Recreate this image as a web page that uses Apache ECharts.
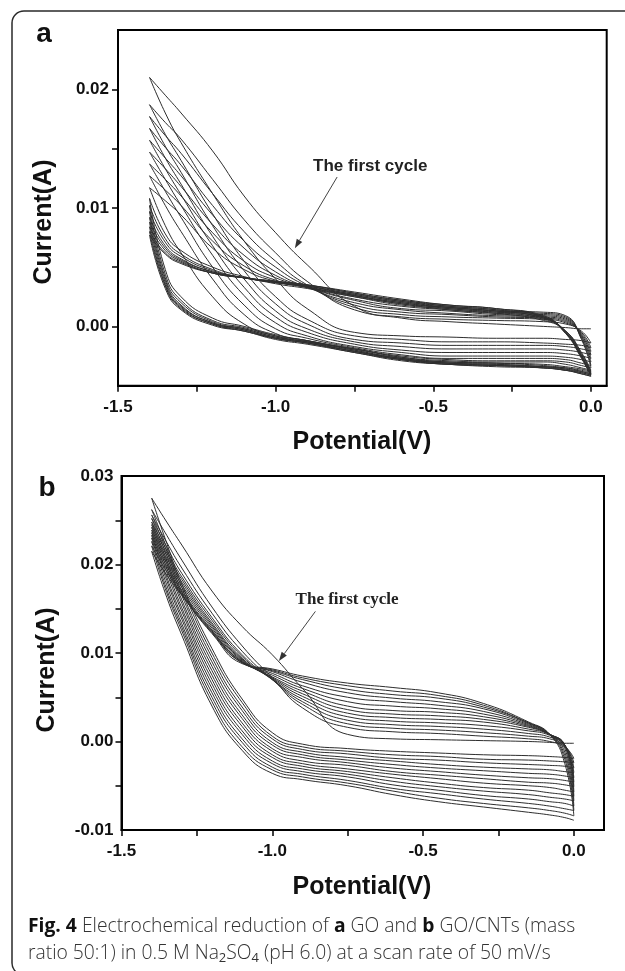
<!DOCTYPE html>
<html><head><meta charset="utf-8">
<script src="https://cdn.jsdelivr.net/npm/echarts@6/dist/echarts.min.js"></script>
<style>html,body{margin:0;padding:0;background:#fff;}#c{width:625px;height:971px;}</style>
</head><body><div id="c"></div>
<script>
// Shared potential grid (V), scan from 0 V to -1.4 V
const potential = [0, -0.03, -0.08, -0.15, -0.3, -0.45, -0.6, -0.75, -0.9, -1.0, -1.1, -1.2, -1.3, -1.35, -1.4];

// Axis ticks
const xLabelValues = [-1.5, -1.0, -0.5, 0.0];
const xTickValues = [-1.5, -1.25, -1.0, -0.75, -0.5, -0.25, 0.0];
const yLabelValuesA = [0.00, 0.01, 0.02];
const yTickValuesA = [0.0, 0.005, 0.01, 0.015, 0.02];
const yLabelValuesB = [-0.01, 0.00, 0.01, 0.02, 0.03];
const yTickValuesB = [-0.005, 0.0, 0.005, 0.01, 0.015, 0.02, 0.025];

// Panel a (GO): current (A) on forward (0 -> -1.4 V) and reverse (-1.4 -> 0 V) scans, on the potential grid
const goForward = [
  [-0.0002, -0.0002, -0.0001, 0.0000, 0.0002, 0.0004, 0.0007, 0.0017, 0.0052, 0.0079, 0.0110, 0.0148, 0.0180, 0.0195, 0.0210],
  [-0.0014, -0.0004, 0.0002, 0.0004, 0.0005, 0.0006, 0.0008, 0.0014, 0.0038, 0.0062, 0.0090, 0.0124, 0.0158, 0.0172, 0.0187],
  [-0.0018, -0.0005, 0.0003, 0.0006, 0.0007, 0.0008, 0.0010, 0.0016, 0.0035, 0.0055, 0.0080, 0.0112, 0.0146, 0.0161, 0.0177],
  [-0.0021, -0.0006, 0.0004, 0.0007, 0.0008, 0.0010, 0.0012, 0.0018, 0.0034, 0.0050, 0.0072, 0.0102, 0.0136, 0.0151, 0.0167],
  [-0.0024, -0.0007, 0.0005, 0.0008, 0.0009, 0.0011, 0.0014, 0.0020, 0.0033, 0.0046, 0.0066, 0.0094, 0.0127, 0.0142, 0.0157],
  [-0.0027, -0.0008, 0.0006, 0.0009, 0.0010, 0.0013, 0.0015, 0.0022, 0.0033, 0.0043, 0.0060, 0.0086, 0.0118, 0.0133, 0.0147],
  [-0.0030, -0.0009, 0.0007, 0.0010, 0.0011, 0.0014, 0.0017, 0.0023, 0.0033, 0.0041, 0.0055, 0.0079, 0.0110, 0.0124, 0.0137],
  [-0.0033, -0.0010, 0.0008, 0.0011, 0.0012, 0.0015, 0.0018, 0.0025, 0.0033, 0.0039, 0.0051, 0.0072, 0.0102, 0.0115, 0.0127],
  [-0.0035, -0.0011, 0.0009, 0.0012, 0.0013, 0.0016, 0.0019, 0.0026, 0.0033, 0.0038, 0.0048, 0.0066, 0.0094, 0.0106, 0.0117],
  [-0.0037, -0.0022, -0.0004, 0.0005, 0.0011, 0.0014, 0.0019, 0.0025, 0.0032, 0.0036, 0.0042, 0.0050, 0.0064, 0.0078, 0.0108],
  [-0.0038, -0.0023, -0.0004, 0.0006, 0.0012, 0.0015, 0.0020, 0.0026, 0.0033, 0.0037, 0.0041, 0.0048, 0.0061, 0.0074, 0.0102],
  [-0.0039, -0.0024, -0.0004, 0.0007, 0.0013, 0.0016, 0.0020, 0.0026, 0.0034, 0.0037, 0.0041, 0.0047, 0.0059, 0.0071, 0.0097],
  [-0.0040, -0.0025, -0.0005, 0.0007, 0.0013, 0.0016, 0.0021, 0.0027, 0.0034, 0.0037, 0.0041, 0.0046, 0.0057, 0.0068, 0.0092],
  [-0.0040, -0.0025, -0.0005, 0.0008, 0.0014, 0.0017, 0.0021, 0.0027, 0.0034, 0.0037, 0.0041, 0.0046, 0.0056, 0.0066, 0.0088],
  [-0.0041, -0.0026, -0.0005, 0.0008, 0.0014, 0.0017, 0.0022, 0.0028, 0.0035, 0.0038, 0.0041, 0.0045, 0.0055, 0.0064, 0.0084],
  [-0.0041, -0.0026, -0.0006, 0.0008, 0.0015, 0.0018, 0.0022, 0.0028, 0.0035, 0.0038, 0.0041, 0.0045, 0.0054, 0.0062, 0.0080],
  [-0.0042, -0.0027, -0.0006, 0.0009, 0.0015, 0.0018, 0.0023, 0.0029, 0.0035, 0.0038, 0.0041, 0.0045, 0.0053, 0.0061, 0.0077]
];
const goReverse = [
  [-0.0014, -0.0012, -0.0011, -0.0010, -0.0010, -0.0009, -0.0008, -0.0005, 0.0015, 0.0040, 0.0072, 0.0112, 0.0155, 0.0180, 0.0210],
  [-0.0018, -0.0016, -0.0015, -0.0014, -0.0013, -0.0013, -0.0011, -0.0008, 0.0006, 0.0025, 0.0055, 0.0095, 0.0140, 0.0162, 0.0187],
  [-0.0021, -0.0019, -0.0017, -0.0016, -0.0016, -0.0016, -0.0014, -0.0011, 0.0002, 0.0019, 0.0047, 0.0085, 0.0130, 0.0152, 0.0177],
  [-0.0024, -0.0022, -0.0020, -0.0019, -0.0019, -0.0019, -0.0017, -0.0013, -0.0002, 0.0013, 0.0040, 0.0076, 0.0120, 0.0142, 0.0167],
  [-0.0027, -0.0025, -0.0023, -0.0022, -0.0022, -0.0022, -0.0020, -0.0015, -0.0005, 0.0008, 0.0033, 0.0068, 0.0111, 0.0133, 0.0157],
  [-0.0030, -0.0028, -0.0026, -0.0025, -0.0025, -0.0025, -0.0022, -0.0017, -0.0008, 0.0003, 0.0026, 0.0060, 0.0102, 0.0124, 0.0147],
  [-0.0033, -0.0031, -0.0028, -0.0027, -0.0027, -0.0027, -0.0024, -0.0018, -0.0010, -0.0002, 0.0018, 0.0050, 0.0092, 0.0114, 0.0137],
  [-0.0035, -0.0033, -0.0030, -0.0029, -0.0029, -0.0028, -0.0025, -0.0019, -0.0012, -0.0006, 0.0010, 0.0040, 0.0080, 0.0102, 0.0127],
  [-0.0037, -0.0035, -0.0032, -0.0030, -0.0030, -0.0029, -0.0026, -0.0019, -0.0013, -0.0008, 0.0002, 0.0025, 0.0062, 0.0085, 0.0117],
  [-0.0038, -0.0036, -0.0034, -0.0032, -0.0031, -0.0030, -0.0026, -0.0019, -0.0012, -0.0007, 0.0000, 0.0007, 0.0025, 0.0048, 0.0108],
  [-0.0039, -0.0037, -0.0035, -0.0033, -0.0031, -0.0030, -0.0027, -0.0020, -0.0012, -0.0008, -0.0001, 0.0005, 0.0022, 0.0044, 0.0102],
  [-0.0040, -0.0038, -0.0035, -0.0034, -0.0032, -0.0031, -0.0027, -0.0020, -0.0013, -0.0009, -0.0002, 0.0004, 0.0020, 0.0041, 0.0097],
  [-0.0040, -0.0038, -0.0036, -0.0034, -0.0032, -0.0031, -0.0027, -0.0021, -0.0013, -0.0009, -0.0002, 0.0003, 0.0018, 0.0039, 0.0092],
  [-0.0041, -0.0039, -0.0036, -0.0034, -0.0033, -0.0031, -0.0028, -0.0021, -0.0014, -0.0010, -0.0003, 0.0003, 0.0017, 0.0037, 0.0088],
  [-0.0041, -0.0039, -0.0037, -0.0035, -0.0033, -0.0032, -0.0028, -0.0021, -0.0014, -0.0010, -0.0003, 0.0002, 0.0016, 0.0035, 0.0084],
  [-0.0042, -0.0040, -0.0037, -0.0035, -0.0033, -0.0032, -0.0028, -0.0022, -0.0014, -0.0010, -0.0004, 0.0002, 0.0015, 0.0034, 0.0080],
  [-0.0042, -0.0040, -0.0037, -0.0035, -0.0034, -0.0032, -0.0029, -0.0022, -0.0015, -0.0011, -0.0004, 0.0001, 0.0014, 0.0032, 0.0077]
];

// Panel b (GO/CNTs)
const cntForward = [
  [-0.0002, -0.0002, -0.0001, 0.0000, 0.0001, 0.0002, 0.0003, 0.0008, 0.0060, 0.0098, 0.0130, 0.0170, 0.0222, 0.0248, 0.0275],
  [-0.0019, -0.0006, 0.0000, 0.0003, 0.0006, 0.0009, 0.0011, 0.0016, 0.0038, 0.0072, 0.0108, 0.0152, 0.0205, 0.0233, 0.0262],
  [-0.0024, -0.0005, 0.0003, 0.0006, 0.0010, 0.0013, 0.0015, 0.0020, 0.0042, 0.0070, 0.0102, 0.0145, 0.0196, 0.0225, 0.0256],
  [-0.0030, -0.0004, 0.0005, 0.0009, 0.0014, 0.0017, 0.0019, 0.0024, 0.0045, 0.0070, 0.0098, 0.0140, 0.0190, 0.0220, 0.0252],
  [-0.0035, -0.0004, 0.0007, 0.0012, 0.0018, 0.0021, 0.0023, 0.0028, 0.0048, 0.0070, 0.0096, 0.0137, 0.0186, 0.0216, 0.0248],
  [-0.0041, -0.0004, 0.0008, 0.0014, 0.0022, 0.0025, 0.0027, 0.0032, 0.0051, 0.0071, 0.0094, 0.0134, 0.0183, 0.0213, 0.0245],
  [-0.0046, -0.0004, 0.0008, 0.0016, 0.0025, 0.0029, 0.0031, 0.0036, 0.0054, 0.0072, 0.0093, 0.0132, 0.0180, 0.0210, 0.0242],
  [-0.0051, -0.0004, 0.0008, 0.0017, 0.0028, 0.0033, 0.0035, 0.0040, 0.0057, 0.0073, 0.0092, 0.0130, 0.0177, 0.0207, 0.0239],
  [-0.0057, -0.0005, 0.0008, 0.0018, 0.0031, 0.0037, 0.0040, 0.0045, 0.0060, 0.0075, 0.0091, 0.0128, 0.0174, 0.0204, 0.0236],
  [-0.0062, -0.0008, 0.0008, 0.0019, 0.0034, 0.0041, 0.0045, 0.0050, 0.0063, 0.0077, 0.0090, 0.0126, 0.0171, 0.0201, 0.0233],
  [-0.0067, -0.0012, 0.0008, 0.0020, 0.0037, 0.0045, 0.0049, 0.0055, 0.0067, 0.0079, 0.0090, 0.0125, 0.0169, 0.0198, 0.0230],
  [-0.0073, -0.0016, 0.0008, 0.0021, 0.0039, 0.0049, 0.0053, 0.0059, 0.0070, 0.0080, 0.0089, 0.0124, 0.0167, 0.0195, 0.0226],
  [-0.0078, -0.0020, 0.0008, 0.0021, 0.0041, 0.0052, 0.0057, 0.0063, 0.0072, 0.0081, 0.0089, 0.0123, 0.0166, 0.0192, 0.0221],
  [-0.0084, -0.0025, 0.0008, 0.0022, 0.0043, 0.0055, 0.0061, 0.0066, 0.0074, 0.0082, 0.0088, 0.0122, 0.0165, 0.0188, 0.0215]
];
const cntReverse = [
  [-0.0019, -0.0018, -0.0017, -0.0016, -0.0015, -0.0013, -0.0011, -0.0008, -0.0003, 0.0010, 0.0048, 0.0105, 0.0178, 0.0224, 0.0275],
  [-0.0024, -0.0023, -0.0022, -0.0021, -0.0020, -0.0017, -0.0015, -0.0011, -0.0006, 0.0006, 0.0044, 0.0100, 0.0174, 0.0219, 0.0262],
  [-0.0030, -0.0028, -0.0027, -0.0026, -0.0024, -0.0021, -0.0019, -0.0014, -0.0009, 0.0003, 0.0039, 0.0095, 0.0169, 0.0215, 0.0256],
  [-0.0035, -0.0034, -0.0032, -0.0031, -0.0029, -0.0026, -0.0022, -0.0018, -0.0012, -0.0001, 0.0035, 0.0090, 0.0165, 0.0210, 0.0252],
  [-0.0041, -0.0039, -0.0037, -0.0036, -0.0033, -0.0030, -0.0026, -0.0021, -0.0015, -0.0004, 0.0030, 0.0085, 0.0160, 0.0205, 0.0248],
  [-0.0046, -0.0044, -0.0042, -0.0041, -0.0038, -0.0034, -0.0030, -0.0024, -0.0018, -0.0008, 0.0026, 0.0080, 0.0156, 0.0201, 0.0245],
  [-0.0051, -0.0049, -0.0047, -0.0046, -0.0042, -0.0038, -0.0034, -0.0027, -0.0022, -0.0011, 0.0021, 0.0075, 0.0151, 0.0196, 0.0242],
  [-0.0057, -0.0055, -0.0052, -0.0050, -0.0047, -0.0042, -0.0037, -0.0031, -0.0025, -0.0015, 0.0017, 0.0070, 0.0147, 0.0191, 0.0239],
  [-0.0062, -0.0060, -0.0058, -0.0055, -0.0052, -0.0047, -0.0041, -0.0034, -0.0028, -0.0018, 0.0012, 0.0065, 0.0142, 0.0186, 0.0236],
  [-0.0067, -0.0065, -0.0063, -0.0060, -0.0056, -0.0051, -0.0045, -0.0037, -0.0031, -0.0022, 0.0008, 0.0060, 0.0138, 0.0182, 0.0233],
  [-0.0073, -0.0070, -0.0068, -0.0065, -0.0061, -0.0055, -0.0049, -0.0040, -0.0034, -0.0025, 0.0003, 0.0055, 0.0133, 0.0177, 0.0230],
  [-0.0078, -0.0076, -0.0073, -0.0070, -0.0065, -0.0059, -0.0053, -0.0044, -0.0037, -0.0029, -0.0001, 0.0050, 0.0129, 0.0172, 0.0226],
  [-0.0084, -0.0081, -0.0078, -0.0075, -0.0070, -0.0064, -0.0056, -0.0047, -0.0040, -0.0032, -0.0006, 0.0045, 0.0125, 0.0168, 0.0221],
  [-0.0089, -0.0086, -0.0083, -0.0080, -0.0074, -0.0068, -0.0060, -0.0050, -0.0043, -0.0036, -0.0010, 0.0040, 0.0120, 0.0163, 0.0215]
];

// Annotation anchors (data units): label centre, arrow start, arrow tip
const annotA = {text: [-0.70, 0.0135], from: [-0.805, 0.0126], to: [-0.939, 0.0066]};
const annotB = {text: [-0.752, 0.0160], from: [-0.857, 0.0147], to: [-0.978, 0.0091]};

const chart = echarts.init(document.getElementById('c'), null, {renderer: 'canvas', width: 625, height: 971});
const SANS = 'Liberation Sans, Arial, sans-serif';
const curveStyle = {color: '#2e2e2e', width: 1};

function cycleSeries(fwd, rev, idx) {
  const out = [];
  fwd.forEach((cur, i) => {
    [cur, rev[i]].forEach(arr => {
      out.push({
        type: 'line', xAxisIndex: idx, yAxisIndex: idx,
        data: potential.map((p, j) => [p, arr[j]]).reverse(),
        smooth: 0.5, showSymbol: false, symbol: 'none',
        lineStyle: curveStyle, silent: true, animation: false, clip: true
      });
    });
  });
  return out;
}

function xAxisCfg(gi, max) {
  return {
    gridIndex: gi, type: 'value', min: -1.5, max: max, interval: 0.25,
    axisLine: {show: true, onZero: false, lineStyle: {color: '#000', width: 2}},
    axisTick: {show: true, length: 6, customValues: xTickValues, lineStyle: {color: '#000', width: 1.5}},
    axisLabel: {customValues: xLabelValues, formatter: v => (Math.abs(v) < 1e-9 ? 0 : v).toFixed(1),
      margin: 13, fontFamily: SANS, fontWeight: 'bold', fontSize: 17, color: '#111'},
    splitLine: {show: false}
  };
}
function yAxisCfg(gi, min, max, labels, ticks, margin) {
  return {
    gridIndex: gi, type: 'value', min: min, max: max, interval: 0.005,
    axisLine: {show: true, onZero: false, lineStyle: {color: '#000', width: 2}},
    axisTick: {show: true, length: 6, customValues: ticks, lineStyle: {color: '#000', width: 1.5}},
    axisLabel: {customValues: labels, formatter: v => (Math.abs(v) < 1e-9 ? 0 : v).toFixed(2),
      margin: margin, fontFamily: SANS, fontWeight: 'bold', fontSize: 17, color: '#111'},
    splitLine: {show: false}
  };
}

const titleStyle = {fontFamily: SANS, fontWeight: 'bold', fontSize: 25, fill: '#111'};

chart.setOption({
  animation: false,
  backgroundColor: '#fff',
  grid: [
    {left: 118, right: 18.3, top: 30, bottom: 585.3, show: true, borderColor: '#000', borderWidth: 2},
    {left: 121.5, right: 21, top: 476, bottom: 141, show: true, borderColor: '#000', borderWidth: 2}
  ],
  xAxis: [xAxisCfg(0, 0.05), xAxisCfg(1, 0.1)],
  yAxis: [
    yAxisCfg(0, -0.005, 0.025, yLabelValuesA, yTickValuesA, 9),
    yAxisCfg(1, -0.01, 0.03, yLabelValuesB, yTickValuesB, 8)
  ],
  series: [].concat(cycleSeries(goForward, goReverse, 0), cycleSeries(cntForward, cntReverse, 1))
});

function arrow(a, gi, fontStyle) {
  const f = {xAxisIndex: gi, yAxisIndex: gi};
  const t = chart.convertToPixel(f, a.text);
  const p0 = chart.convertToPixel(f, a.from);
  const p1 = chart.convertToPixel(f, a.to);
  const dx = p1[0] - p0[0], dy = p1[1] - p0[1];
  const L = Math.sqrt(dx * dx + dy * dy), ux = dx / L, uy = dy / L;
  const hl = 9, hw = 3.2;
  const bx = p1[0] - ux * hl, by = p1[1] - uy * hl;
  return [
    {type: 'text', x: t[0], y: t[1], style: Object.assign({text: 'The first cycle', align: 'center', verticalAlign: 'middle', fill: '#222'}, fontStyle)},
    {type: 'line', shape: {x1: p0[0], y1: p0[1], x2: bx, y2: by}, style: {stroke: '#444', lineWidth: 1}},
    {type: 'polygon', shape: {points: [[p1[0], p1[1]], [bx - uy * hw, by + ux * hw], [bx + uy * hw, by - ux * hw]]}, style: {fill: '#333'}}
  ];
}

const graphics = [
  {type: 'rect', shape: {x: 12, y: 11, width: 660, height: 964, r: 12}, style: {fill: 'none', stroke: '#2a2a2a', lineWidth: 1.5}, z: 10},
  {type: 'text', x: 44, y: 34, style: {text: 'a', align: 'center', verticalAlign: 'middle', font: 'bold 28px Liberation Sans, Arial, sans-serif', fill: '#111'}},
  {type: 'text', x: 47, y: 488, style: {text: 'b', align: 'center', verticalAlign: 'middle', font: 'bold 28px Liberation Sans, Arial, sans-serif', fill: '#111'}},
  {type: 'text', x: 44, y: 222, rotation: Math.PI / 2, style: Object.assign({text: 'Current(A)', align: 'center', verticalAlign: 'middle'}, titleStyle)},
  {type: 'text', x: 47, y: 670, rotation: Math.PI / 2, style: Object.assign({text: 'Current(A)', align: 'center', verticalAlign: 'middle'}, titleStyle)},
  {type: 'text', x: 362, y: 442, style: Object.assign({text: 'Potential(V)', align: 'center', verticalAlign: 'middle'}, titleStyle)},
  {type: 'text', x: 362, y: 887, style: Object.assign({text: 'Potential(V)', align: 'center', verticalAlign: 'middle'}, titleStyle)},
  {type: 'text', x: 28, y: 940, style: {
    text: '{f|Fig. 4} Electrochemical reduction of {f|a} GO and {f|b} GO/CNTs (mass\nratio 50:1) in 0.5 M Na{s|2}SO{s|4} (pH 6.0) at a scan rate of 50 mV/s',
    align: 'left', verticalAlign: 'middle', fontFamily: 'Open Sans, Noto Sans, sans-serif', fontSize: 19.3, fontWeight: 300,
    fill: '#333', lineHeight: 26.6,
    rich: {
      f: {fontFamily: 'Open Sans, Noto Sans, sans-serif', fontWeight: 'bold', fontSize: 19.3, fill: '#111', lineHeight: 26.6},
      s: {fontFamily: 'Open Sans, Noto Sans, sans-serif', fontSize: 13, fill: '#333', lineHeight: 13, verticalAlign: 'bottom', padding: [0, 0, 2, 0]}
    }
  }}
].concat(
  arrow(annotA, 0, {fontFamily: SANS, fontWeight: 'bold', fontSize: 17}),
  arrow(annotB, 1, {fontFamily: 'Liberation Serif, Times New Roman, serif', fontWeight: 'bold', fontSize: 17})
);

chart.setOption({graphic: graphics});
</script>
</body></html>
